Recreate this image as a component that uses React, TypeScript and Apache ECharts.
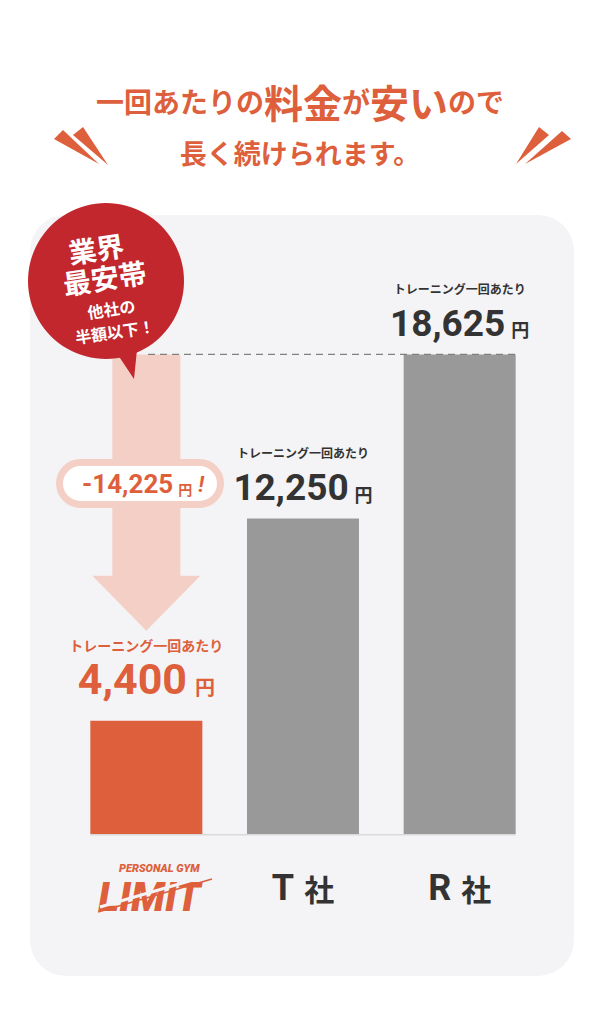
import React, { useEffect, useRef } from 'react';
import * as echarts from 'echarts';

const categories = ['PERSONAL GYM LIMIT', 'T 社', 'R 社'];
const prices = [4400, 12250, 18625];
const caption = 'トレーニング一回あたり';
const unit = '円';
const yMax = 20000;
const badgeBig = ['業界', '最安帯'];
const badgeSmall = ['他社の', '半額以下！'];
const titleLine1 = [
  ['s', '一回あたりの'],
  ['l', '料金'],
  ['s', 'が'],
  ['l', '安い'],
  ['s', 'ので'],
];
const titleLine2 = '長く続けられます。';

const ORANGE = '#de5f3c';
const GRAY = '#999999';
const PINK = '#f4cfc6';
const RED = '#c1272d';
const DARK = '#333333';
const PANEL = '#f4f4f6';
const JP = '"Noto Sans CJK JP", "Noto Sans", sans-serif';
const NUM = 'Roboto, "Noto Sans", sans-serif';

const fmt = (v: number) => v.toLocaleString('en-US');

export default function App() {
  const ref = useRef<HTMLDivElement>(null);

  useEffect(() => {
    const chart = echarts.init(ref.current!, null, { renderer: 'svg', width: 600, height: 1024 });

    const title = titleLine1.map(([k, t]) => `{${k}|${t}}`).join('') + `\n{m|${titleLine2}}`;

    chart.setOption({
      animation: false,
      backgroundColor: '#ffffff',
      title: {
        text: title,
        left: 'center',
        top: 72,
        textStyle: {
          rich: {
            s: { fontSize: 28, fontWeight: 'bold', color: ORANGE, fontFamily: JP, lineHeight: 48, verticalAlign: 'middle' },
            l: { fontSize: 39, fontWeight: 'bold', color: ORANGE, fontFamily: JP, lineHeight: 48, verticalAlign: 'middle' },
            m: { fontSize: 27, fontWeight: 'bold', color: ORANGE, fontFamily: JP, lineHeight: 54, verticalAlign: 'middle' },
          },
        },
      },
      grid: { left: 68, right: 62, top: 319, bottom: 190 },
      xAxis: {
        type: 'category',
        data: categories,
        z: 3,
        axisLine: { show: false },
        axisTick: { show: false },
        axisLabel: {
          margin: 26,
          interval: 0,
          formatter: (v: string, i: number) => {
            if (i === 0) {
              const parts = v.split(' ');
              return `{p|${parts[0]} ${parts[1]}}\n{L|${parts[2]}}`;
            }
            const [a, b] = v.split(' ');
            return `{t|${a}}{k|${b}}`;
          },
          rich: {
            p: { fontSize: 11, fontStyle: 'italic', fontWeight: 900, color: ORANGE, fontFamily: NUM, lineHeight: 16, padding: [0, 0, 0, 26] },
            L: { fontSize: 40, fontStyle: 'italic', fontWeight: 900, color: ORANGE, fontFamily: NUM, lineHeight: 42, padding: [0, 0, 0, 6] },
            t: { fontSize: 36, fontWeight: 'bold', color: DARK, fontFamily: NUM, lineHeight: 56, verticalAlign: 'middle' },
            k: { fontSize: 30, fontWeight: 'bold', color: DARK, fontFamily: JP, lineHeight: 56, verticalAlign: 'middle', padding: [0, 0, 0, 10] },
          },
        },
      },
      yAxis: {
        type: 'value',
        min: 0,
        max: yMax,
        show: false,
        splitLine: { show: false },
      },
      series: [
        {
          type: 'bar',
          barWidth: 112,
          data: prices.map((v, i) => ({
            value: v,
            itemStyle: { color: i === 0 ? ORANGE : GRAY },
            label: { distance: i === 0 ? 20 : 10 },
          })),
          label: {
            show: true,
            position: 'top',
            formatter: (p: any) =>
              p.dataIndex === 0
                ? `{oa|${caption}}\n{ob|${fmt(p.value)}}{oc|${unit}}`
                : `{a|${caption}}\n{b|${fmt(p.value)}}{c|${unit}}`,
            rich: {
              a: { fontSize: 12, fontWeight: 'bold', color: DARK, fontFamily: JP, lineHeight: 28, verticalAlign: 'middle' },
              b: { fontSize: 37, fontWeight: 'bold', color: DARK, fontFamily: NUM, lineHeight: 42, verticalAlign: 'middle' },
              c: { fontSize: 18, fontWeight: 'bold', color: DARK, fontFamily: JP, lineHeight: 30, verticalAlign: 'bottom', padding: [0, 0, 6, 6] },
              oa: { fontSize: 14, fontWeight: 'bold', color: ORANGE, fontFamily: JP, lineHeight: 24, verticalAlign: 'middle' },
              ob: { fontSize: 43, fontWeight: 'bold', color: ORANGE, fontFamily: NUM, lineHeight: 44, verticalAlign: 'middle' },
              oc: { fontSize: 20, fontWeight: 'bold', color: ORANGE, fontFamily: JP, lineHeight: 30, verticalAlign: 'bottom', padding: [0, 0, 4, 8] },
            },
          },
        },
      ],
    });

    const px = (i: number, v: number) => chart.convertToPixel({ seriesIndex: 0 }, [i, v]) as number[];
    const p0 = px(0, prices[0]);
    const pTop = px(2, prices[2]);
    const base = px(0, 0);
    const half = 56;
    const cx = p0[0];
    const topY = pTop[1];
    const tipY = p0[1] - 90;
    const headY = tipY - 55;
    const diff = prices[2] - prices[0];

    chart.setOption({
      graphic: [
        {
          type: 'rect',
          z: -1,
          shape: { x: 30, y: 215, width: 544, height: 761, r: 36 },
          style: { fill: PANEL },
        },
        // decorative slashes
        { type: 'polygon', z: 5, shape: { points: [[54, 139], [63, 130], [99, 164]] }, style: { fill: ORANGE } },
        { type: 'polygon', z: 5, shape: { points: [[73, 135], [83, 127], [108, 165]] }, style: { fill: ORANGE } },
        { type: 'polygon', z: 5, shape: { points: [[539, 127], [549, 135], [516, 164]] }, style: { fill: ORANGE } },
        { type: 'polygon', z: 5, shape: { points: [[562, 131], [571, 139], [525, 164]] }, style: { fill: ORANGE } },
        // baseline
        {
          type: 'line',
          z: 5,
          shape: { x1: cx - half, y1: base[1] + 0.75, x2: pTop[0] + half, y2: base[1] + 0.75 },
          style: { stroke: '#d9d9d9', lineWidth: 1.5 },
        },
        // arrow
        {
          type: 'polygon',
          z: 5,
          shape: {
            points: [
              [cx - 34, topY],
              [cx + 34, topY],
              [cx + 34, headY],
              [cx + 54, headY],
              [cx, tipY],
              [cx - 54, headY],
              [cx - 34, headY],
            ],
          },
          style: { fill: PINK },
        },
        // dashed line
        {
          type: 'line',
          z: 7,
          shape: { x1: 148, y1: topY, x2: pTop[0] + half, y2: topY },
          style: { stroke: '#808080', lineWidth: 1.3, lineDash: [7, 5] },
        },
        // pill
        {
          type: 'rect',
          z: 8,
          shape: { x: 59.5, y: 462.5, width: 161, height: 42, r: 21 },
          style: { fill: '#ffffff', stroke: PINK, lineWidth: 7 },
        },
        {
          type: 'text',
          z: 9,
          x: 143,
          y: 484,
          style: {
            text: `{n|-${fmt(diff)}}{y|${unit}}{e|!}`,
            align: 'center',
            verticalAlign: 'middle',
            rich: {
              n: { fontSize: 26, fontWeight: 'bold', fill: ORANGE, fontFamily: NUM, lineHeight: 30, verticalAlign: 'middle' },
              y: { fontSize: 14, fontWeight: 'bold', fill: ORANGE, fontFamily: JP, lineHeight: 22, verticalAlign: 'bottom', padding: [0, 0, 3, 5] },
              e: { fontSize: 22, fontWeight: 'bold', fontStyle: 'italic', fill: ORANGE, fontFamily: NUM, lineHeight: 30, verticalAlign: 'middle', padding: [0, 0, 0, 6] },
            },
          },
        },
        // badge
        { type: 'circle', z: 10, shape: { cx: 106, cy: 281, r: 78 }, style: { fill: RED } },
        { type: 'polygon', z: 10, shape: { points: [[108, 340], [138, 340], [134, 379]] }, style: { fill: RED } },
        {
          type: 'group',
          z: 11,
          x: 106,
          y: 287,
          rotation: 0.15,
          children: [
            { type: 'text', z: 11, x: -4, y: -40, style: { text: badgeBig[0], fill: '#fff', fontSize: 28, fontWeight: 'bold', fontFamily: JP, align: 'center', verticalAlign: 'middle' } },
            { type: 'text', z: 11, x: 0, y: -10, style: { text: badgeBig[1], fill: '#fff', fontSize: 28, fontWeight: 'bold', fontFamily: JP, align: 'center', verticalAlign: 'middle' } },
            { type: 'text', z: 11, x: 2, y: 22, style: { text: badgeSmall[0], fill: '#fff', fontSize: 16, fontWeight: 'bold', fontFamily: JP, align: 'center', verticalAlign: 'middle' } },
            { type: 'text', z: 11, x: 2, y: 45, style: { text: badgeSmall[1], fill: '#fff', fontSize: 16, fontWeight: 'bold', fontFamily: JP, align: 'center', verticalAlign: 'middle' } },
          ],
        },
        // logo slash
        {
          type: 'line',
          z: 12,
          shape: { x1: 100, y1: 907, x2: 210, y2: 875 },
          style: { stroke: PANEL, lineWidth: 3 },
        },
        {
          type: 'line',
          z: 12,
          shape: { x1: 98, y1: 912, x2: 212, y2: 879 },
          style: { stroke: ORANGE, lineWidth: 1.5 },
        },
      ],
    });

    return () => chart.dispose();
  }, []);

  return <div ref={ref} style={{ position: 'absolute', left: 0, top: 0, width: 600, height: 1024 }} />;
}
